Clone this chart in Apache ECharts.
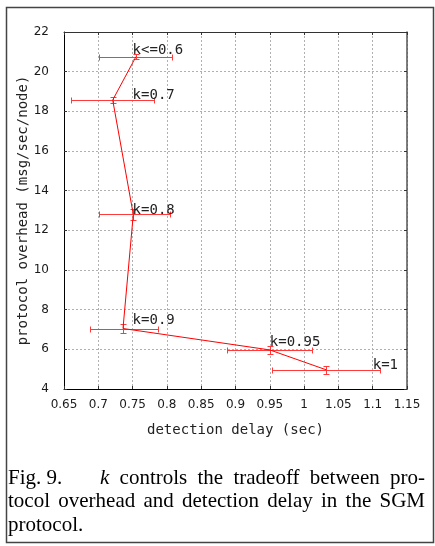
<!DOCTYPE html>
<html><head><meta charset="utf-8">
<script src="https://cdn.jsdelivr.net/npm/echarts@6/dist/echarts.min.js"></script>
<style>html,body{margin:0;padding:0;background:#fff}#c{width:435px;height:546px}</style>
</head><body><div id="c"></div>
<script>
const kLabels = ["k<=0.6", "k=0.7", "k=0.8", "k=0.9", "k=0.95", "k=1"];
const delay = [0.755, 0.721, 0.751, 0.736, 0.950, 1.032];
const delayLow = [0.701, 0.660, 0.701, 0.688, 0.888, 0.953];
const delayHigh = [0.807, 0.781, 0.804, 0.787, 1.012, 1.110];
const overhead = [20.76, 18.57, 12.80, 7.05, 5.97, 4.97];
const overheadLow = [20.64, 18.42, 12.52, 6.83, 5.75, 4.77];
const overheadHigh = [20.88, 18.72, 13.08, 7.27, 6.19, 5.17];
const labelX = [0.75, 0.75, 0.75, 0.75, 0.95, 1.10];
const labelY = [21.05, 18.83, 13.0, 7.45, 6.33, 5.2];
const xTickLabels = ["0.65","0.7","0.75","0.8","0.85","0.9","0.95","1","1.05","1.1","1.15"];
const yTickLabels = ["4","6","8","10","12","14","16","18","20","22"];

const chart = echarts.init(document.getElementById('c'), null, {renderer: 'canvas'});
const RED = '#ff0000';
const BAR = '#ff3a3a';
const tickFont = {fontFamily: 'DejaVu Sans', fontSize: 12, color: '#1a1a1a'};

function crisp(v) { return Math.round(v) + 0.5; }

const errData = delay.map((d, i) => [d, overhead[i], delayLow[i], delayHigh[i], overheadLow[i], overheadHigh[i]]);
const lblData = kLabels.map((t, i) => [labelX[i], labelY[i], t]);

// caption justification helper
const mctx = document.createElement('canvas').getContext('2d');
function measure(t, font) { mctx.font = font; return mctx.measureText(t).width; }
const serif = '21px "Liberation Serif"';
const serifIt = 'italic 21px "Liberation Serif"';
function justify(words, fonts, left, right, y) {
  const ws = words.map((w, i) => measure(w, fonts[i]));
  const total = ws.reduce((a, b) => a + b, 0);
  const gap = (right - left - total) / (words.length - 1);
  let x = left;
  const out = [];
  words.forEach((w, i) => {
    out.push({type: 'text', x: x, y: y, style: {text: w, font: fonts[i], fill: '#000', textVerticalAlign: 'middle', verticalAlign: 'middle'}});
    x += ws[i] + gap;
  });
  return out;
}
const line1Words = ["k", "controls", "the", "tradeoff", "between", "pro-"];
const line1Fonts = [serifIt, serif, serif, serif, serif, serif];
const line2Words = ["tocol", "overhead", "and", "detection", "delay", "in", "the", "SGM"];
const caption = [
  {type: 'text', x: 8, y: 478, style: {text: 'Fig. 9.', font: serif, fill: '#000', textVerticalAlign: 'middle', verticalAlign: 'middle'}},
  ...justify(line1Words, line1Fonts, 100, 425, 478),
  ...justify(line2Words, line2Words.map(() => serif), 8, 425, 501),
  {type: 'text', x: 8, y: 525, style: {text: 'protocol.', font: serif, fill: '#000', textVerticalAlign: 'middle', verticalAlign: 'middle'}}
];

const option = {
  backgroundColor: '#fff',
  animation: false,
  grid: {left: 64, right: 28, top: 32, bottom: 157, containLabel: false},
  xAxis: [{
    type: 'value', min: 0.65, max: 1.15, interval: 0.05, position: 'bottom',
    name: 'detection delay (sec)', nameLocation: 'middle', nameGap: 34, nameMoveOverlap: false,
    nameTextStyle: {fontFamily: 'DejaVu Sans Mono', fontSize: 14, color: '#222'},
    axisLine: {show: true, lineStyle: {color: '#000', width: 1}},
    axisTick: {show: true, inside: true, length: 3, lineStyle: {color: '#333'}},
    axisLabel: Object.assign({margin: 10, showMinLabel: true, showMaxLabel: true,
      formatter: v => xTickLabels[Math.round((v - 0.65) / 0.05)]}, tickFont),
    splitLine: {show: true, lineStyle: {color: '#b0b0b0', type: [2, 2], width: 1}}
  }, {
    type: 'value', min: 0.65, max: 1.15, interval: 0.05, position: 'top',
    axisLine: {show: true, lineStyle: {color: '#333', width: 1}},
    axisTick: {show: true, inside: true, length: 3, lineStyle: {color: '#333'}},
    axisLabel: {show: false}, splitLine: {show: false}
  }],
  yAxis: [{
    type: 'value', min: 4, max: 22, interval: 2, position: 'left',
    name: 'protocol overhead (msg/sec/node)', nameLocation: 'middle', nameGap: 34, nameMoveOverlap: false,
    nameTextStyle: {fontFamily: 'DejaVu Sans Mono', fontSize: 14, color: '#222'},
    axisLine: {show: true, lineStyle: {color: '#000', width: 1}},
    axisTick: {show: true, inside: true, length: 3, lineStyle: {color: '#333'}},
    axisLabel: Object.assign({margin: 15, showMinLabel: true, showMaxLabel: true,
      formatter: v => yTickLabels[Math.round((v - 4) / 2)]}, tickFont),
    splitLine: {show: true, lineStyle: {color: '#b0b0b0', type: [2, 2], width: 1}}
  }, {
    type: 'value', min: 4, max: 22, interval: 2, position: 'right',
    axisLine: {show: true, lineStyle: {color: '#555', width: 1.5}},
    axisTick: {show: true, inside: true, length: 3, lineStyle: {color: '#333'}},
    axisLabel: {show: false}, splitLine: {show: false}
  }],
  series: [{
    type: 'line', xAxisIndex: 0, yAxisIndex: 0,
    data: delay.map((d, i) => [d, overhead[i]]),
    symbol: 'none', lineStyle: {color: RED, width: 1}, z: 3
  }, {
    type: 'custom', xAxisIndex: 0, yAxisIndex: 0, data: errData, z: 2,
    renderItem: function (params, api) {
      const p = api.coord([api.value(0), api.value(1)]);
      const l = api.coord([api.value(2), api.value(1)]);
      const h = api.coord([api.value(3), api.value(1)]);
      const b = api.coord([api.value(0), api.value(4)]);
      const t = api.coord([api.value(0), api.value(5)]);
      const st = {stroke: BAR, lineWidth: 1};
      const y = crisp(p[1]), x = crisp(p[0]);
      const lx = crisp(l[0]), hx = crisp(h[0]);
      const by = crisp(b[1]), ty = crisp(t[1]);
      const c = 3;
      return {type: 'group', children: [
        {type: 'line', shape: {x1: lx, y1: y, x2: hx, y2: y}, style: st},
        {type: 'line', shape: {x1: lx, y1: y - c, x2: lx, y2: y + c}, style: st},
        {type: 'line', shape: {x1: hx, y1: y - c, x2: hx, y2: y + c}, style: st},
        {type: 'line', shape: {x1: x, y1: by, x2: x, y2: ty}, style: st},
        {type: 'line', shape: {x1: x - c, y1: by, x2: x + c, y2: by}, style: st},
        {type: 'line', shape: {x1: x - c, y1: ty, x2: x + c, y2: ty}, style: st}
      ]};
    }
  }, {
    type: 'custom', xAxisIndex: 0, yAxisIndex: 0, data: lblData, z: 4,
    renderItem: function (params, api) {
      const p = api.coord([api.value(0), api.value(1)]);
      return {type: 'text', x: p[0], y: p[1], style: {
        text: lblData[params.dataIndex][2], font: '14px "DejaVu Sans Mono"', fill: '#222',
        textAlign: 'left', align: 'left', textVerticalAlign: 'middle', verticalAlign: 'middle'}};
    }
  }],
  graphic: [
    {type: 'rect', shape: {x: 6.5, y: 7.5, width: 427, height: 535}, style: {fill: 'none', stroke: '#444', lineWidth: 1.5}, z: 10},
    ...caption
  ]
};
chart.setOption(option);
</script>
</body></html>
